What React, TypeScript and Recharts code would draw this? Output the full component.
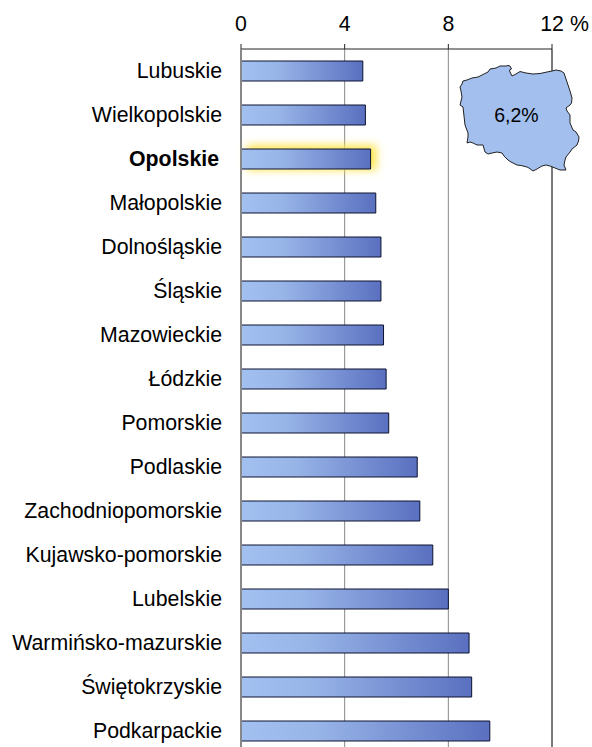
import React from 'react';
import { BarChart, Bar, XAxis, YAxis, CartesianGrid, ReferenceLine, Rectangle } from 'recharts';

const regions = ['Lubuskie','Wielkopolskie','Opolskie','Małopolskie','Dolnośląskie','Śląskie','Mazowieckie','Łódzkie','Pomorskie','Podlaskie','Zachodniopomorskie','Kujawsko-pomorskie','Lubelskie','Warmińsko-mazurskie','Świętokrzyskie','Podkarpackie'];
const shares = [4.7,4.8,5.0,5.2,5.4,5.4,5.5,5.6,5.7,6.8,6.9,7.4,8.0,8.8,8.9,9.6];
const xTicks = [0,4,8,12];
const highlighted = 'Opolskie';
const nationalLabel = '6,2%';
const data = regions.map((name, i) => ({ name, value: shares[i] }));

const FONT = '"Liberation Sans", Arial, sans-serif';
const SIZE = 21.3;
const mapPath = 'M460 87 L462 84 L463 81 L467 80 L472 78 L478 77 L482 75 L488 72 L490 69 L496 68 L500 66 L506 66 L508 65.5 L510 66 L511.5 69 L509.5 70 L510 72 L512 76 L516 74 L520 71.5 L526 73 L533 74 L540 73.5 L547 72 L552 71 L556 70 L561 71 L564 73 L566 79 L568 85 L570 91 L572 98 L571.5 103 L570 105 L566 108 L567 111 L570 115 L570 123 L573 130 L576 132 L579 137 L578.5 141 L577 145 L572 149 L570 152 L566 157 L565 160 L564 165 L566 170 L560 170 L555 168 L550 166 L546 165 L542 166 L537 169 L533 171 L529 168 L527 167 L521 165.5 L517 165 L511 162 L508 160 L504 156 L502 153 L497 152 L492 153 L488 154 L485 152 L483 145 L477 145 L473 143 L470 142 L467 143 L468 137 L468 133 L465 125 L464 116 L463 107 L460 105 L462 97 L461 91 Z';

const YTick = (p: any) => {
  const bold = p.payload.value === highlighted;
  return <text x={bold ? 219 : 222} y={p.y + 7} textAnchor="end" fontFamily={FONT} fontSize={SIZE} fontWeight={bold ? 700 : 400} fill="#000">{p.payload.value}</text>;
};
const XTick = (p: any) => (
  <g>
    <text x={p.x} y={31} textAnchor="middle" fontFamily={FONT} fontSize={SIZE} fill="#000">{p.payload.value}</text>
    {p.payload.value === 12 && <text x={570} y={31} fontFamily={FONT} fontSize={SIZE} fill="#000">%</text>}
  </g>
);
const BarShape = (p: any) => (
  <g>
    {p.name === highlighted && <rect x={p.x + 6} y={p.y - 4} width={p.width} height={p.height + 5} fill="#FFE650" filter="url(#glow)" />}
    <Rectangle x={p.x} y={p.y} width={p.width} height={p.height} fill="url(#barFill)" stroke="#0c1230" strokeWidth={1} />
  </g>
);

export default function App() {
  return (
    <div style={{ position: 'absolute', left: 0, top: 0, width: 592, height: 747, overflow: 'hidden', background: '#fff' }}>
      <BarChart width={592} height={753} data={data} layout="vertical" margin={{ top: 0, right: 40, bottom: 0, left: 0 }} barSize={20}>
        <defs>
          <linearGradient id="barFill" x1="0" y1="0" x2="1" y2="0">
            <stop offset="0" stopColor="#A2C0F0" />
            <stop offset="0.3" stopColor="#98B5E8" />
            <stop offset="1" stopColor="#5A70C0" />
          </linearGradient>
          <filter id="glow" x="-20%" y="-80%" width="140%" height="260%">
            <feGaussianBlur stdDeviation="4" />
          </filter>
        </defs>
        <CartesianGrid vertical horizontal={false} stroke="#888" strokeWidth={1} />
        <ReferenceLine x={12} stroke="#333" strokeWidth={1} />
        <XAxis type="number" orientation="top" domain={[0, 12]} ticks={xTicks} height={49} axisLine={{ stroke: '#222', strokeWidth: 1 }} tickLine={{ stroke: '#222' }} tickSize={5} tick={<XTick />} interval={0} />
        <YAxis type="category" dataKey="name" width={241} axisLine={{ stroke: '#888', strokeWidth: 2 }} tickLine={false} tick={<YTick />} interval={0} />
        <Bar dataKey="value" isAnimationActive={false} shape={<BarShape />} />
      </BarChart>
      <svg width={592} height={747} style={{ position: 'absolute', left: 0, top: 0 }}>
        <path d={mapPath} fill="#A2BFEE" stroke="#222" strokeWidth={1} strokeLinejoin="round" />
        <text x={516.5} y={122} textAnchor="middle" fontFamily={FONT} fontSize={19.5} fill="#000">{nationalLabel}</text>
      </svg>
    </div>
  );
}
